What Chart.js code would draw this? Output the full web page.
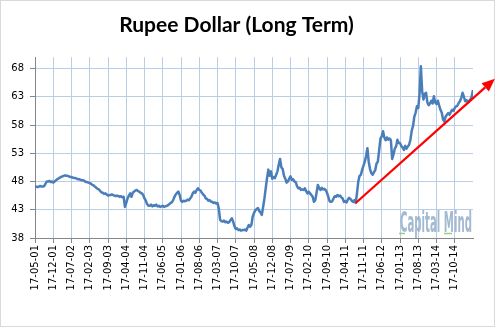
<!DOCTYPE html>
<html>
<head>
<meta charset="utf-8">
<script src="https://cdn.jsdelivr.net/npm/chart.js@4.4.0/dist/chart.umd.min.js"></script>
<style>
  html, body { margin: 0; padding: 0; background: #fff; }
  canvas { display: block; }
</style>
</head>
<body>
<canvas id="rupeeChart" width="496" height="328"></canvas>
<script>
// USD/INR, two readings per month starting May 2001
const rate2001 = [47.0, 47.1, 47.0, 47.1, 47.2, 47.1, 47.1, 47.2, 47.6, 48.0, 48.0, 48.1, 47.9, 48.0, 47.8, 48.0];
const rate2002 = [48.2, 48.4, 48.5, 48.7, 48.8, 48.9, 49.0, 49.1, 49.0, 49.0, 48.9, 48.8, 48.8, 48.7, 48.6, 48.6, 48.5, 48.4, 48.4, 48.3, 48.2, 48.2, 48.1, 47.9];
const rate2003 = [47.9, 47.8, 47.7, 47.6, 47.4, 47.3, 47.1, 46.9, 46.7, 46.6, 46.3, 46.1, 46.0, 45.8, 45.9, 45.7, 45.5, 45.6, 45.6, 45.7, 45.6, 45.5, 45.4, 45.5];
const rate2004 = [45.4, 45.3, 45.4, 45.2, 45.3, 43.5, 44.2, 45.0, 45.5, 45.9, 45.3, 46.0, 46.2, 46.4, 46.5, 46.3, 46.2, 46.0, 45.9, 45.6, 45.0, 44.6, 44.0, 43.7];
const rate2005 = [43.7, 43.9, 43.6, 43.8, 43.7, 43.9, 43.6, 43.7, 43.5, 43.6, 43.7, 43.5, 43.6, 43.7, 43.8, 44.0, 44.2, 44.3, 44.7, 45.3, 45.7, 46.0, 46.2, 45.6];
const rate2006 = [44.6, 44.4, 44.6, 44.5, 44.6, 44.8, 44.7, 45.0, 45.3, 45.9, 46.2, 46.0, 46.5, 46.8, 46.5, 46.4, 46.0, 45.7, 45.5, 45.0, 44.9, 44.6, 44.7, 44.4];
const rate2007 = [44.4, 44.2, 44.3, 44.1, 44.2, 43.2, 41.2, 41.0, 40.9, 41.1, 40.8, 40.9, 40.7, 40.8, 41.2, 41.5, 40.9, 40.1, 39.6, 39.7, 39.4, 39.5, 39.3, 39.4];
const rate2008 = [39.4, 39.5, 39.3, 39.8, 40.3, 40.0, 40.3, 41.8, 42.4, 42.9, 43.1, 43.3, 42.8, 42.5, 42.1, 43.5, 45.0, 46.8, 48.6, 50.1, 49.0, 49.8, 48.5, 48.8];
const rate2009 = [48.6, 49.2, 49.8, 51.0, 52.0, 50.5, 50.2, 49.0, 48.5, 47.8, 48.0, 48.5, 48.9, 48.3, 48.4, 48.0, 47.9, 47.2, 46.8, 46.9, 46.5, 46.6, 46.5, 46.8];
const rate2010 = [46.3, 45.9, 46.2, 45.9, 45.6, 45.3, 44.4, 44.7, 46.0, 47.4, 46.8, 46.5, 46.9, 46.6, 46.7, 46.5, 46.0, 45.3, 44.5, 44.4, 44.5, 45.0, 45.4, 45.3];
const rate2011 = [45.6, 45.4, 45.5, 45.2, 45.0, 44.4, 44.5, 44.3, 44.8, 45.1, 44.9, 44.6, 44.4, 44.7, 44.2, 45.9, 48.0, 49.0, 49.2, 50.1, 50.8, 51.5, 52.5, 53.9];
const rate2012 = [51.5, 50.2, 49.5, 49.2, 49.6, 50.0, 51.2, 51.5, 53.5, 55.6, 56.0, 56.9, 55.8, 55.3, 55.8, 55.4, 55.6, 55.3, 52.0, 52.8, 53.8, 54.2, 55.4, 54.8];
const rate2013 = [54.8, 54.3, 54.0, 53.6, 54.3, 53.8, 54.2, 54.5, 55.4, 57.0, 57.8, 59.5, 60.2, 61.3, 61.0, 63.5, 68.4, 64.0, 62.5, 63.5, 63.7, 62.0, 61.5, 61.8];
const rate2014 = [62.3, 61.8, 63.1, 62.0, 61.7, 62.3, 61.5, 60.7, 60.2, 59.0, 58.6, 59.5, 59.8, 60.1, 59.8, 60.3, 60.7, 60.5, 61.0, 61.3, 61.4, 61.9, 62.2, 62.8];
const rate2015 = [63.7, 63.0, 62.2, 62.4, 62.0, 62.3, 62.5, 63.0, 64.2];

const tickLabels = ['17-05-01', '17-12-01', '17-07-02', '17-02-03', '17-09-03', '17-04-04',
  '17-11-04', '17-06-05', '17-01-06', '17-08-06', '17-03-07', '17-10-07',
  '17-05-08', '17-12-08', '17-07-09', '17-02-10', '17-09-10', '17-04-11',
  '17-11-11', '17-06-12', '17-01-13', '17-08-13', '17-03-14', '17-10-14'];
const yTicks = [38, 43, 48, 53, 58, 63, 68];

// trend arrow, in months since May 2001 / rupees
const arrowFrom = [123, 44.2];
const arrowTo = [176.4, 66.2];

const rates = [].concat(rate2001, rate2002, rate2003, rate2004, rate2005, rate2006, rate2007,
  rate2008, rate2009, rate2010, rate2011, rate2012, rate2013, rate2014, rate2015);
const points = rates.map((v, i) => ({ x: i / 2, y: v }));

const AXIS = '#868686';
const GRID = '#b9cde5';

const extras = {
  id: 'extras',
  beforeDraw(chart) {
    const c = chart.ctx;
    c.save();
    c.fillStyle = '#fff';
    c.fillRect(0, 0, chart.width, chart.height);
    c.strokeStyle = '#d9d9d9';
    c.lineWidth = 1;
    c.strokeRect(0.5, 0.5, 494, 326);
    c.restore();
  },
  afterDatasetsDraw(chart) {
    const c = chart.ctx;
    const area = chart.chartArea;
    const xs = chart.scales.x, ys = chart.scales.y;

    // watermark, squeezed into a narrow block at the bottom right
    c.save();
    c.font = 'bold 28px "DejaVu Sans"';
    const w = c.measureText('Capital Mind').width;
    c.translate(area.right - 1, area.bottom - 6);
    c.scale(72 / w, 1);
    c.textAlign = 'right';
    c.textBaseline = 'alphabetic';
    c.fillStyle = 'rgba(140,168,196,0.8)';
    c.fillText('Capital Mind', 0, 0);
    c.restore();
    c.save();
    c.strokeStyle = 'rgba(120,200,90,0.8)';
    c.lineWidth = 1.5;
    c.beginPath();
    c.moveTo(area.right - 74, area.bottom - 4.5); c.lineTo(area.right - 68, area.bottom - 4.5);
    c.moveTo(area.right - 29, area.bottom - 4.5); c.lineTo(area.right - 21, area.bottom - 4.5);
    c.stroke();
    c.restore();

    // red arrow
    const x1 = xs.getPixelForValue(arrowFrom[0]), y1 = ys.getPixelForValue(arrowFrom[1]);
    const x2 = xs.getPixelForValue(arrowTo[0]), y2 = ys.getPixelForValue(arrowTo[1]);
    const ang = Math.atan2(y2 - y1, x2 - x1);
    const head = 13, half = 5.5;
    const bx = x2 - head * Math.cos(ang), by = y2 - head * Math.sin(ang);
    c.save();
    c.strokeStyle = '#ff0000';
    c.fillStyle = '#ff0000';
    c.lineWidth = 2.25;
    c.beginPath();
    c.moveTo(x1, y1);
    c.lineTo(bx, by);
    c.stroke();
    c.beginPath();
    c.moveTo(x2, y2);
    c.lineTo(bx + half * Math.sin(ang), by - half * Math.cos(ang));
    c.lineTo(bx - half * Math.sin(ang), by + half * Math.cos(ang));
    c.closePath();
    c.fill();
    c.restore();
  }
};

new Chart(document.getElementById('rupeeChart'), {
  type: 'line',
  data: {
    datasets: [{
      data: points,
      borderColor: '#4a7ebb',
      borderWidth: 2.5,
      pointRadius: 0,
      tension: 0,
      borderJoinStyle: 'round'
    }]
  },
  plugins: [extras],
  options: {
    responsive: false,
    animation: false,
    layout: { padding: { left: 0, right: 23, top: 0, bottom: 0 } },
    plugins: {
      legend: { display: false },
      tooltip: { enabled: false },
      title: {
        display: true,
        text: 'Rupee Dollar (Long Term)',
        color: '#000',
        font: { family: 'Lato', size: 21, weight: 'bold' },
        padding: { top: 13, bottom: 19 }
      }
    },
    scales: {
      x: {
        type: 'linear',
        min: 0,
        max: 168,
        afterBuildTicks: s => { s.ticks = tickLabels.map((_, i) => ({ value: i * 7 })); },
        afterFit: s => { s.height = 90; },
        ticks: {
          autoSkip: false,
          minRotation: 90,
          maxRotation: 90,
          padding: 2,
          color: '#000',
          font: { family: 'DejaVu Sans', size: 10 },
          callback: (v, i) => tickLabels[i]
        },
        grid: { color: GRID, tickColor: AXIS, tickLength: 5 },
        border: { color: AXIS }
      },
      y: {
        min: 38,
        max: 70,
        afterBuildTicks: s => { s.ticks = yTicks.map(v => ({ value: v })); },
        afterFit: s => { s.width = 35; },
        ticks: {
          padding: 6,
          color: '#000',
          font: { family: 'DejaVu Sans', size: 10 }
        },
        grid: { color: GRID, tickColor: AXIS, tickLength: 5 },
        border: { color: AXIS }
      }
    }
  }
});
</script>
</body>
</html>
